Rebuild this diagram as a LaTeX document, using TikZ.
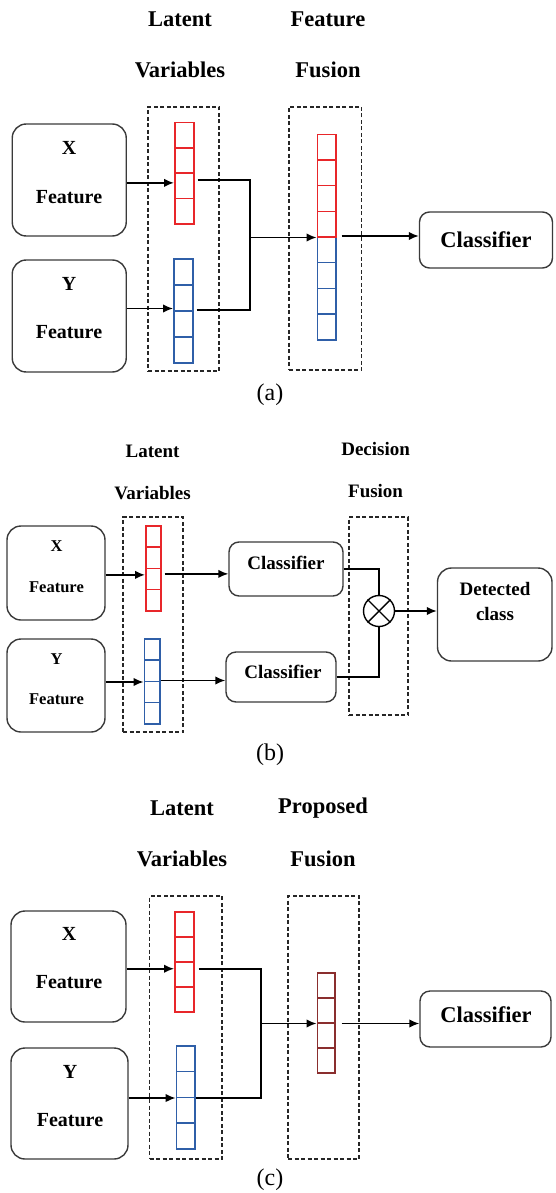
\documentclass[tikz,border=0pt]{standalone}
\usepackage{fontspec}
\setmainfont{Liberation Serif}[BoldFont={Liberation Serif Bold},ItalicFont={Liberation Serif Italic}]
\usetikzlibrary{arrows.meta}
\definecolor{vred}{HTML}{E8262A}
\definecolor{vblue}{HTML}{2F5FA8}
\definecolor{vbrown}{HTML}{8A2E2E}
\definecolor{edgegray}{HTML}{3A3A3A}
\tikzset{
  fbox/.style={draw=edgegray, line width=1.4pt, rounded corners=14pt, inner sep=0pt},
  cbox/.style={draw=edgegray, line width=1.4pt, rounded corners=10pt, inner sep=0pt},
  dbox/.style={draw=black!85, line width=1.1pt, dash pattern=on 4pt off 2.5pt, inner sep=0pt},
  cell/.style={draw, line width=1.5pt, inner sep=0pt, anchor=north west},
  hdA/.style={font=\fontsize{22.5}{26}\selectfont\bfseries, inner sep=0pt},
  txA/.style={font=\fontsize{20}{24}\selectfont\bfseries, inner sep=0pt},
  hdB/.style={font=\fontsize{19}{22}\selectfont\bfseries, inner sep=0pt},
  txB/.style={font=\fontsize{16.5}{20}\selectfont\bfseries, inner sep=0pt},
  capt/.style={font=\fontsize{24}{28}\selectfont, inner sep=0pt},
  conn/.style={draw=black, line width=1.6pt},
  arr/.style={conn, -{Latex[length=10pt,width=8.5pt]}},
}
\newcommand{\cellstack}[7]{%
  \foreach \k in {1,...,#6}{%
    \node[cell, draw=#7, minimum width=#4pt, minimum height=#5pt] (#1-\k) at (#2,{#3+(\k-1)*#5}) {};
  }}
\begin{document}
\begin{tikzpicture}[x=1pt,y=-1pt]
\useasboundingbox (0,0) rectangle (555,1193);

% ================= (a) =================
\node[hdA] (a-lat1) at (180,19) {Latent};
\node[hdA] (a-lat2) at (180,70) {Variables};
\node[hdA] (a-fus1) at (328,19) {Feature};
\node[hdA] (a-fus2) at (328,70) {Fusion};
\node[dbox, minimum width=71pt, minimum height=264pt] (a-lbox) at (183.5,239) {};
\node[dbox, minimum width=72.5pt, minimum height=263pt] (a-fbox) at (325.25,238.5) {};
\node[fbox, minimum width=114pt, minimum height=112pt] (xa) at (69.25,180) {};
\node[txA] (xa-t1) at (69,148) {X};
\node[txA] (xa-t2) at (69,197) {Feature};
\node[fbox, minimum width=114pt, minimum height=112pt] (ya) at (69.25,316) {};
\node[txA] (ya-t1) at (69,284) {Y};
\node[txA] (ya-t2) at (69,332) {Feature};
\cellstack{ra}{174}{122}{19}{25.25}{4}{vred}
\cellstack{ba}{173}{258}{19}{26}{4}{vblue}
\cellstack{fba}{316.5}{236}{18.5}{25.75}{4}{vblue}
\cellstack{fra}{316.5}{134}{18.5}{25.5}{4}{vred}
\node[cbox, hdA, minimum width=133pt, minimum height=56pt] (ca) at (486,240) {Classifier};
\node[capt] (cap-a) at (270,395) {(a)};

\path ([yshift=3pt]ra-3.west) coordinate (ra-in);
\draw[arr] (xa.east |- ra-in) -- (ra-in);
\path ([yshift=3pt]ba-2.south west) coordinate (ba-in);
\draw[arr] (ya.east |- ba-in) -- (ba-in);
\coordinate (jxa) at (250,0);
\path ([xshift=3pt,yshift=6pt]ra-3.east) coordinate (ra-out);
\path ([xshift=3pt]ba-3.north east) coordinate (ba-out);
\draw[conn] (ra-out) -| (jxa |- fra-4.south west);
\draw[conn] (ba-out) -| (jxa |- fra-4.south west);
\draw[arr] (jxa |- fra-4.south west) -- (fra-4.south west);
\draw[arr] ([xshift=5pt]fba-1.north east) -- (ca.west |- fba-1.north east);

% ================= (b) =================
\node[hdB] (b-lat1) at (152.6,451) {Latent};
\node[hdB] (b-lat2) at (152.6,493) {Variables};
\node[hdB] (b-dec1) at (375.6,449) {Decision};
\node[hdB] (b-dec2) at (375.6,491) {Fusion};
\node[dbox, minimum width=60pt, minimum height=215pt] (b-lbox) at (153,624.5) {};
\node[dbox, minimum width=59pt, minimum height=198pt] (b-dbox) at (378.5,616) {};
\node[fbox, minimum width=98pt, minimum height=94pt] (xb) at (56,573) {};
\node[txB] (xb-t1) at (56.5,546) {X};
\node[txB] (xb-t2) at (56.5,587) {Feature};
\node[fbox, minimum width=98pt, minimum height=93pt] (yb) at (56,685.5) {};
\node[txB] (yb-t1) at (56.5,659) {Y};
\node[txB] (yb-t2) at (56.5,699) {Feature};
\cellstack{rb}{145}{525}{15}{21.25}{4}{vred}
\cellstack{bb}{143.5}{638}{15.5}{21.25}{4}{vblue}
\node[cbox, minimum width=114pt, minimum height=54pt] (c1b) at (286,569) {};
\node[hdB] (c1b-t) at (286,563) {Classifier};
\node[cbox, minimum width=110pt, minimum height=50pt] (c2b) at (281,677) {};
\node[hdB] (c2b-t) at (283,672) {Classifier};
\node[draw=black, line width=1.4pt, circle, minimum size=31pt, inner sep=0pt] (ot) at (379,611) {};
\draw[line width=1.4pt] (ot.north east) -- (ot.south west);
\draw[line width=1.4pt] (ot.north west) -- (ot.south east);
\node[cbox, rounded corners=14pt, minimum width=114.5pt, minimum height=93pt] (dcb) at (494.75,614.5) {};
\node[hdB] (dcb-t1) at (495,589) {Detected};
\node[hdB] (dcb-t2) at (495,614) {class};
\node[capt] (cap-b) at (270,755) {(b)};

\path ([yshift=4pt]rb-3.west) coordinate (rb-in);
\draw[arr] (xb.east |- rb-in) -- (rb-in);
\path ([xshift=3pt,yshift=5pt]rb-3.east) coordinate (rb-out);
\draw[arr] (rb-out) -- (c1b.west |- rb-out);
\draw[arr] (yb.east |- bb-2.south west) -- (bb-2.south west);
\draw[arr] (bb-3.north east) -- (c2b.west |- bb-3.north east);
\draw[conn] (c1b.east) -| (ot.north);
\draw[conn] (c2b.east) -| (ot.south);
\draw[arr] (ot.east) -- (dcb.west |- ot.east);

% ================= (c) =================
\node[hdA] (c-lat1) at (182,808) {Latent};
\node[hdA] (c-lat2) at (182,859) {Variables};
\node[hdA] (c-pro1) at (323,808) {Proposed};
\node[hdA] (c-pro2) at (323,859) {Fusion};
\node[dbox, minimum width=72.5pt, minimum height=263pt] (c-lbox) at (185.75,1027.5) {};
\node[dbox, minimum width=71pt, minimum height=263pt] (c-pbox) at (323.5,1027.5) {};
\node[fbox, minimum width=115pt, minimum height=111pt] (xc) at (68.5,966.5) {};
\node[txA] (xc-t1) at (69,934) {X};
\node[txA] (xc-t2) at (69,982) {Feature};
\node[fbox, minimum width=117pt, minimum height=111pt] (yc) at (69.5,1103.5) {};
\node[txA] (yc-t1) at (70,1072) {Y};
\node[txA] (yc-t2) at (70,1120) {Feature};
\cellstack{rc}{174}{911}{19}{25}{4}{vred}
\cellstack{bc}{175.6}{1045}{18.5}{25.75}{4}{vblue}
\cellstack{pc}{316.5}{972}{17.5}{25}{4}{vbrown}
\node[cbox, minimum width=131pt, minimum height=56pt] (cc) at (485.5,1019) {};
\node[hdA] (cc-t) at (486,1015) {Classifier};
\node[capt] (cap-c) at (270,1180) {(c)};

\path ([yshift=5.5pt]rc-3.west) coordinate (rc-in);
\draw[arr] (xc.east |- rc-in) -- (rc-in);
\draw[arr] (yc.east |- bc-2.south west) -- (bc-2.south west);
\coordinate (jxc) at (261,0);
\path ([xshift=4pt,yshift=5.5pt]rc-3.east) coordinate (rc-out);
\draw[conn] (rc-out) -| (jxc |- pc-2.south west);
\draw[conn] (bc-2.south east) -| (jxc |- pc-2.south west);
\draw[arr] (jxc |- pc-2.south west) -- (pc-2.south west);
\draw[arr] ([xshift=6pt]pc-2.south east) -- (cc.west |- pc-2.south east);
\end{tikzpicture}
\end{document}
